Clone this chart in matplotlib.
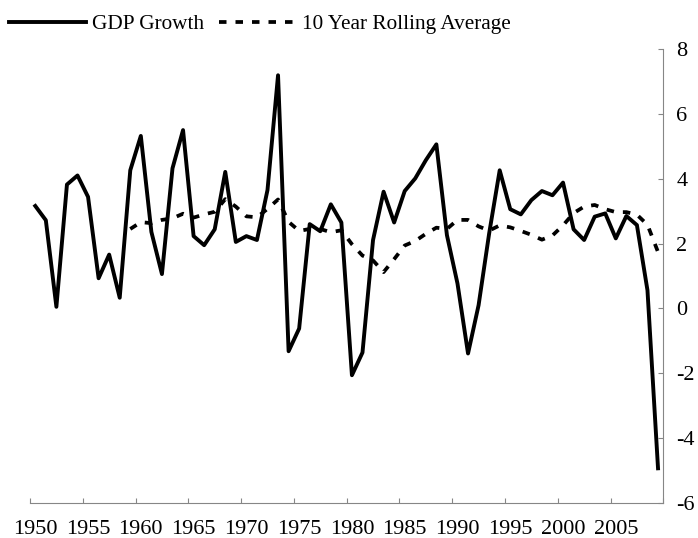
from matplotlib import pyplot as plt
import matplotlib as mpl
import numpy as np

mpl.rc('font', family='Liberation Serif', size=16)
mpl.rc('axes', unicode_minus=False)

"""
GDP growth with 10 year rolling average
"""

years = list(range(1950, 2010))

gdpGrowth = [3.16, 2.72, 0.05, 3.82, 4.10, 3.44, 0.93, 1.66, 0.33, 4.26,
             5.32, 2.36, 1.06, 4.32, 5.50, 2.23, 1.95, 2.44, 4.21, 2.05,
             2.23, 2.11, 3.65, 7.19, -1.32, -0.62, 2.60, 2.38, 3.21, 2.65,
             -2.06, -1.36, 2.11, 3.60, 2.65, 3.62, 4.01, 4.57, 5.06, 2.26,
             0.77, -1.39, 0.10, 2.31, 4.26, 3.06, 2.90, 3.34, 3.62, 3.49,
             3.88, 2.44, 2.11, 2.83, 2.93, 2.16, 2.85, 2.57, 0.56, -4.93]

# first nine years have no average
rollingAvg = [None] * 9 + [
             2.45, 2.66, 2.63, 2.73, 2.78, 2.92, 2.80, 2.90, 2.98, 3.37,
             3.14, 2.84, 2.81, 3.07, 3.36, 2.67, 2.39, 2.45, 2.45, 2.35,
             2.41, 1.98, 1.63, 1.48, 1.12, 1.52, 1.94, 2.08, 2.30, 2.49,
             2.45, 2.73, 2.73, 2.53, 2.40, 2.56, 2.50, 2.39, 2.27, 2.12,
             2.25, 2.56, 2.94, 3.14, 3.19, 3.06, 2.97, 2.97, 2.89, 2.58,
             1.74]

yTicks = [-6, -4, -2, 0, 2, 4, 6, 8]
xLabels = [str(y) for y in years[::5]]

W, H = 698, 538
fig = plt.figure(figsize=(W / 100, H / 100), dpi=100)
ax = fig.add_axes([30 / W, 1 - 503 / H, (663.3 - 30) / W, (503 - 49) / H])

x = np.arange(len(years))
avg = np.array([np.nan if v is None else v for v in rollingAvg])

ax.plot(x, gdpGrowth, color='black', lw=2.8, solid_joinstyle='round', label='GDP Growth')
ax.plot(x, avg, color='black', lw=2.7, dashes=(2.0, 2.4), dash_capstyle='butt',
        label='10 Year Rolling Average')

ax.set_xlim(-0.5, len(years) - 0.5)
ax.set_ylim(-6, 8)

grey = '#868686'
for side in ['top', 'left']:
    ax.spines[side].set_visible(False)
for side in ['bottom', 'right']:
    ax.spines[side].set_color(grey)
    ax.spines[side].set_linewidth(0.8)

ax.yaxis.tick_right()
ax.set_yticks(yTicks)
ax.set_yticklabels([str(t) for t in yTicks])
ax.tick_params(axis='y', direction='in', length=3.6, width=0.8, color=grey, pad=9.5)

# ticks between categories, labels on every fifth category
ax.set_xticks(np.arange(-0.5, len(years), 5))
ax.set_xticklabels([])
ax.set_xticks(x[::5], minor=True)
ax.set_xticklabels(xLabels, minor=True)
ax.tick_params(axis='x', which='major', direction='in', length=3.6, width=0.8, color=grey)
ax.tick_params(axis='x', which='minor', length=0, pad=12.5)

fig.legend(loc='center left', bbox_to_anchor=(9 / W, 1 - 24 / H), ncol=2, frameon=False,
           borderpad=0, borderaxespad=0, handlelength=3.6, handletextpad=0.3,
           columnspacing=0.7, fontsize=15.3)

plt.savefig('out.png', dpi=100)
plt.close()
